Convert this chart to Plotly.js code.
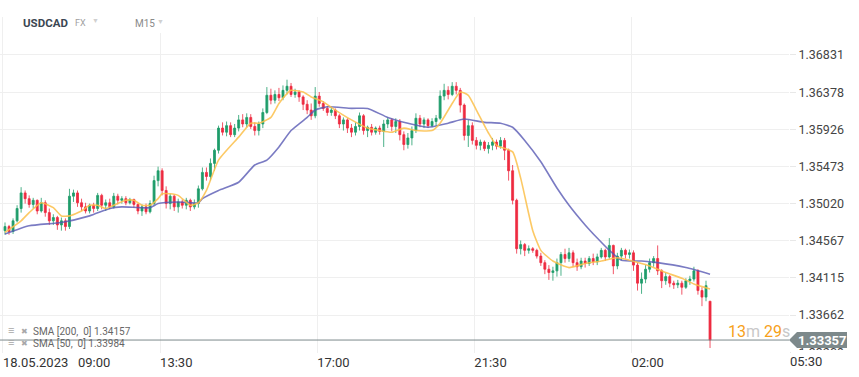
<!DOCTYPE html>
<html><head><meta charset="utf-8">
<script src="https://cdn.plot.ly/plotly-3.0.1.min.js"></script>
<style>html,body{margin:0;padding:0;background:#fff}#chart{width:859px;height:377px}</style>
</head><body><div id="chart"></div>
<script>
const symbolName = "USDCAD";
const xTickPos = [-0.5, 38.5, 77.5, 116.5, 155.5, 194.5];
const xTickText = ["18.05.2023\u00a0\u00a0\u00a009:00", "13:30", "17:00", "21:30", "02:00", ""];
const lastTickText = "05:30";
const yTickVals = [1.33209, 1.33662, 1.34115, 1.34567, 1.35020, 1.35473, 1.35926, 1.36378, 1.36831];
const yTickText = ["1.33209", "1.33662", "1.34115", "1.34567", "1.35020", "1.35473", "1.35926", "1.36378", "1.36831"];

const open = [
1.3469,1.3474,1.3468,1.3481,1.3496,1.3515,1.3508,1.3501,1.3506,1.3493,
1.3503,1.3491,1.3481,1.3485,1.3476,1.3481,1.3474,1.3511,1.3515,1.3503,
1.3498,1.3493,1.3500,1.3496,1.3512,1.3500,1.3503,1.3498,1.3511,1.3506,
1.3508,1.3503,1.3507,1.3501,1.3493,1.3498,1.3492,1.3502,1.3530,1.3542,
1.3518,1.3502,1.3511,1.3498,1.3504,1.3500,1.3506,1.3498,1.3502,1.3520,
1.3540,1.3535,1.3551,1.3567,1.3594,1.3589,1.3597,1.3586,1.3594,1.3604,
1.3599,1.3607,1.3596,1.3591,1.3599,1.3613,1.3634,1.3628,1.3635,1.3631,
1.3640,1.3645,1.3635,1.3638,1.3632,1.3623,1.3616,1.3609,1.3633,1.3624,
1.3618,1.3613,1.3616,1.3609,1.3599,1.3604,1.3594,1.3589,1.3596,1.3609,
1.3591,1.3595,1.3589,1.3594,1.3590,1.3599,1.3604,1.3596,1.3602,1.3586,
1.3574,1.3582,1.3591,1.3606,1.3599,1.3604,1.3597,1.3602,1.3606,1.3633,
1.3640,1.3635,1.3645,1.3640,1.3622,1.3585,1.3597,1.3579,1.3573,1.3577,
1.3569,1.3573,1.3577,1.3572,1.3579,1.3567,1.3542,1.3506,1.3447,1.3452,
1.3445,1.3447,1.3445,1.3438,1.3430,1.3422,1.3418,1.3420,1.3430,1.3440,
1.3435,1.3442,1.3430,1.3425,1.3432,1.3429,1.3435,1.3431,1.3437,1.3445,
1.3437,1.3451,1.3426,1.3438,1.3445,1.3440,1.3442,1.3427,1.3405,1.3410,
1.3422,1.3430,1.3435,1.3420,1.3408,1.3413,1.3405,1.3403,1.3405,1.3400,
1.3408,1.3410,1.3420,1.3396,1.3388,1.3383];
const high = [
1.3479,1.3476,1.3484,1.3500,1.3522,1.3518,1.3512,1.3509,1.3507,1.3509,
1.3506,1.3496,1.3489,1.3487,1.3485,1.3484,1.3520,1.3519,1.3518,1.3508,
1.3503,1.3502,1.3503,1.3515,1.3514,1.3507,1.3508,1.3515,1.3514,1.3511,
1.3511,1.3509,1.3508,1.3502,1.3501,1.3502,1.3506,1.3536,1.3547,1.3545,
1.3523,1.3514,1.3513,1.3508,1.3507,1.3509,1.3508,1.3507,1.3524,1.3546,
1.3546,1.3557,1.3569,1.3597,1.3601,1.3602,1.3601,1.3599,1.3610,1.3611,
1.3612,1.3611,1.3601,1.3602,1.3618,1.3644,1.3642,1.3640,1.3643,1.3646,
1.3653,1.3649,1.3642,1.3640,1.3634,1.3628,1.3624,1.3644,1.3638,1.3627,
1.3621,1.3620,1.3618,1.3611,1.3607,1.3606,1.3599,1.3601,1.3613,1.3611,
1.3597,1.3599,1.3596,1.3597,1.3604,1.3607,1.3606,1.3606,1.3605,1.3590,
1.3588,1.3596,1.3612,1.3610,1.3607,1.3606,1.3606,1.3610,1.3640,1.3648,
1.3645,1.3650,1.3650,1.3643,1.3624,1.3604,1.3601,1.3583,1.3580,1.3579,
1.3577,1.3582,1.3580,1.3583,1.3582,1.3569,1.3549,1.3508,1.3457,1.3454,
1.3451,1.3449,1.3447,1.3442,1.3433,1.3427,1.3425,1.3435,1.3443,1.3447,
1.3448,1.3445,1.3435,1.3436,1.3436,1.3438,1.3441,1.3441,1.3448,1.3447,
1.3460,1.3452,1.3442,1.3448,1.3447,1.3446,1.3445,1.3430,1.3418,1.3427,
1.3435,1.3438,1.3451,1.3422,1.3418,1.3415,1.3408,1.3409,1.3408,1.3411,
1.3414,1.3425,1.3422,1.3400,1.3408,1.3383];
const low = [
1.3464,1.3464,1.3465,1.3479,1.3491,1.3502,1.3497,1.3496,1.3489,1.3491,
1.3486,1.3476,1.3476,1.3470,1.3469,1.3469,1.3471,1.3504,1.3498,1.3493,
1.3490,1.3490,1.3491,1.3493,1.3495,1.3493,1.3495,1.3496,1.3501,1.3502,
1.3500,1.3501,1.3497,1.3489,1.3487,1.3489,1.3490,1.3500,1.3523,1.3512,
1.3496,1.3495,1.3493,1.3491,1.3496,1.3495,1.3493,1.3495,1.3497,1.3518,
1.3530,1.3530,1.3542,1.3563,1.3585,1.3584,1.3583,1.3583,1.3590,1.3595,
1.3595,1.3593,1.3585,1.3585,1.3594,1.3611,1.3623,1.3624,1.3627,1.3628,
1.3635,1.3632,1.3631,1.3626,1.3616,1.3611,1.3604,1.3606,1.3620,1.3615,
1.3609,1.3609,1.3605,1.3594,1.3591,1.3588,1.3583,1.3585,1.3591,1.3586,
1.3583,1.3585,1.3586,1.3586,1.3571,1.3594,1.3590,1.3588,1.3579,1.3567,
1.3569,1.3573,1.3588,1.3595,1.3594,1.3594,1.3595,1.3597,1.3604,1.3628,
1.3629,1.3633,1.3635,1.3613,1.3579,1.3571,1.3574,1.3568,1.3567,1.3566,
1.3563,1.3567,1.3568,1.3569,1.3555,1.3530,1.3501,1.3441,1.3440,1.3438,
1.3441,1.3442,1.3435,1.3426,1.3416,1.3409,1.3408,1.3413,1.3414,1.3430,
1.3431,1.3425,1.3420,1.3422,1.3424,1.3426,1.3427,1.3427,1.3435,1.3432,
1.3435,1.3416,1.3422,1.3433,1.3435,1.3435,1.3420,1.3396,1.3392,1.3405,
1.3418,1.3425,1.3415,1.3399,1.3403,1.3400,1.3398,1.3399,1.3391,1.3398,
1.3403,1.3407,1.3391,1.3377,1.3383,1.3326];
const close = [
1.3474,1.3468,1.3481,1.3496,1.3515,1.3508,1.3501,1.3506,1.3493,1.3503,
1.3491,1.3481,1.3485,1.3476,1.3481,1.3474,1.3511,1.3515,1.3503,1.3498,
1.3493,1.3500,1.3496,1.3512,1.3500,1.3503,1.3498,1.3511,1.3506,1.3508,
1.3503,1.3507,1.3501,1.3493,1.3498,1.3492,1.3502,1.3530,1.3542,1.3518,
1.3502,1.3511,1.3498,1.3504,1.3500,1.3506,1.3498,1.3502,1.3520,1.3540,
1.3535,1.3551,1.3567,1.3594,1.3589,1.3597,1.3586,1.3594,1.3604,1.3599,
1.3607,1.3596,1.3591,1.3599,1.3613,1.3634,1.3628,1.3635,1.3631,1.3640,
1.3645,1.3635,1.3638,1.3632,1.3623,1.3616,1.3609,1.3633,1.3624,1.3618,
1.3613,1.3616,1.3609,1.3599,1.3604,1.3594,1.3589,1.3596,1.3609,1.3591,
1.3595,1.3589,1.3594,1.3590,1.3599,1.3604,1.3596,1.3602,1.3586,1.3574,
1.3582,1.3591,1.3606,1.3599,1.3604,1.3597,1.3602,1.3606,1.3633,1.3640,
1.3635,1.3645,1.3640,1.3622,1.3585,1.3597,1.3579,1.3573,1.3577,1.3569,
1.3573,1.3577,1.3572,1.3579,1.3567,1.3542,1.3506,1.3447,1.3452,1.3445,
1.3447,1.3445,1.3438,1.3430,1.3422,1.3418,1.3420,1.3430,1.3440,1.3435,
1.3442,1.3430,1.3425,1.3432,1.3429,1.3435,1.3431,1.3437,1.3445,1.3437,
1.3451,1.3426,1.3438,1.3445,1.3440,1.3442,1.3427,1.3405,1.3410,1.3422,
1.3430,1.3435,1.3420,1.3408,1.3413,1.3405,1.3403,1.3405,1.3400,1.3408,
1.3410,1.3420,1.3396,1.3388,1.3402,1.33357];

const sma200X = [0,6,14,21,26,29,36,38,43,48,49,53,58,62,65,68,71,75,77,80,86,90,95,100,105,110,114,119,123,126,129,133,137,140,144,147,150,153,158,162,169,175];
const sma200Y = [1.3465,1.3475,1.3479,1.3487,1.3496,1.3498,1.3497,1.3502,1.3504,1.3503,1.3508,1.3518,1.3528,1.3549,1.3555,1.3571,1.3591,1.3607,1.3616,1.3620,1.3618,1.3618,1.3607,1.3600,1.3595,1.3600,1.3605,1.3601,1.3600,1.3595,1.3579,1.3553,1.3521,1.3500,1.3476,1.3460,1.3445,1.3433,1.3432,1.3430,1.3424,1.3416];
const sma50X = [0,4,6,9,12,14,16,19,21,23,25,27,30,32,34,36,38,39,41,43,46,48,50,53,58,61,63,66,68,70,71,74,76,79,82,86,90,93,96,99,102,106,108,111,113,115,117,120,122,126,128,131,133,136,140,144,148,152,155,160,164,168,171,175];
const sma50Y = [1.3467,1.3481,1.3491,1.3503,1.3497,1.3487,1.3487,1.3493,1.3500,1.3500,1.3496,1.3500,1.3506,1.3506,1.3500,1.3500,1.3508,1.3514,1.3514,1.3512,1.3500,1.3503,1.3518,1.3555,1.3583,1.3600,1.3600,1.3607,1.3624,1.3636,1.3640,1.3638,1.3632,1.3626,1.3616,1.3604,1.3594,1.3591,1.3589,1.3594,1.3591,1.3591,1.3600,1.3624,1.3638,1.3634,1.3616,1.3588,1.3573,1.3565,1.3533,1.3469,1.3445,1.3432,1.3424,1.3429,1.3432,1.3436,1.3433,1.3426,1.3418,1.3411,1.3404,1.3398];
const legendLabels = ["SMA [200,\u00a0 0] 1.34157", "SMA [50,\u00a0 0] 1.33984"];
const lastPriceText = "1.33357";
const countdown = ["13", "m", "29", "s"];

const barIndex = close.map((_, i) => i);
const lastPrice = close[close.length - 1];

const traces = [
  {type:'candlestick', x:barIndex, open:open, high:high, low:low, close:close,
   increasing:{line:{color:'#1f9d6b', width:0.8}, fillcolor:'#1f9d6b'},
   decreasing:{line:{color:'#ee2b40', width:0.8}, fillcolor:'#ee2b40'},
   whiskerwidth:0, hoverinfo:'skip', showlegend:false},
  {type:'scatter', mode:'lines', x:sma200X, y:sma200Y,
   line:{color:'rgba(84,86,178,0.78)', width:1.6, shape:'spline', smoothing:0.5}, hoverinfo:'skip'},
  {type:'scatter', mode:'lines', x:sma50X, y:sma50Y,
   line:{color:'rgba(251,192,74,0.85)', width:1.6, shape:'spline', smoothing:0.5}, hoverinfo:'skip'}
];

const plotW = 789, plotTop = 17, plotBottom = 353, plotH = plotBottom - plotTop;
const px2paperX = px => px / plotW;
const px2paperY = py => (plotBottom - py) / plotH;
const halfTag = 8 * (1.37294 - 1.33199) / plotH;

const tagPath = `M 1.0,${lastPrice} L ${px2paperX(797)},${lastPrice + halfTag} L ${px2paperX(847)},${lastPrice + halfTag} L ${px2paperX(847)},${lastPrice - halfTag} L ${px2paperX(797)},${lastPrice - halfTag} Z`;

const layout = {
  width:859, height:377,
  margin:{l:0, r:70, t:plotTop, b:377 - plotBottom, pad:0},
  paper_bgcolor:'#ffffff', plot_bgcolor:'#ffffff',
  showlegend:false,
  font:{family:'Roboto, sans-serif', color:'#333', size:12},
  xaxis:{range:[-1.24, 194.6], tickmode:'array', tickvals:xTickPos, ticktext:xTickText,
    ticklabelposition:'outside right', showgrid:true, gridcolor:'#efefef', gridwidth:1,
    zeroline:false, showline:false, ticks:'', rangeslider:{visible:false}, fixedrange:true,
    tickfont:{size:13, color:'#333', family:'Roboto, sans-serif'}},
  yaxis:{side:'right', range:[1.33199, 1.37294], tickmode:'array', tickvals:yTickVals, ticktext:yTickText,
    showgrid:true, gridcolor:'#efefef', gridwidth:1, zeroline:false, showline:false,
    ticks:'outside', ticklen:6, tickcolor:'#e8e8e8', fixedrange:true,
    tickfont:{size:12.5, color:'#444', family:'Roboto, sans-serif'}},
  shapes:[
    {type:'rect', xref:'paper', yref:'paper', x0:px2paperX(10), x1:px2paperX(176), y0:px2paperY(33), y1:px2paperY(0),
     fillcolor:'#ffffff', line:{width:0}, layer:'above'},
    {type:'rect', xref:'paper', yref:'paper', x0:px2paperX(791), x1:px2paperX(859), y0:px2paperY(377), y1:px2paperY(350),
     fillcolor:'#ffffff', line:{width:0}, layer:'above'},
    {type:'line', xref:'paper', yref:'y', x0:0, x1:1, y0:lastPrice, y1:lastPrice,
     line:{color:'#7d898b', width:1}, layer:'above'},
    {type:'path', xref:'paper', yref:'y', path:tagPath, fillcolor:'#7d898b', line:{width:0}, layer:'above'}
  ],
  annotations:[
    {xref:'paper', yref:'paper', x:px2paperX(21), y:px2paperY(23), xanchor:'left', yanchor:'middle', showarrow:false,
     text:'<b>'+symbolName+'</b>', font:{size:11.5, color:'#3b4753', family:'Roboto, sans-serif'}},
    {xref:'paper', yref:'paper', x:px2paperX(73), y:px2paperY(23), xanchor:'left', yanchor:'middle', showarrow:false,
     text:'FX', font:{size:9, color:'#a0a0a0', family:'Roboto, sans-serif'}},
    {xref:'paper', yref:'paper', x:px2paperX(90), y:px2paperY(21), xanchor:'left', yanchor:'middle', showarrow:false,
     text:'\u25BC', font:{size:7, color:'#d0d0d0'}},
    {xref:'paper', yref:'paper', x:px2paperX(133), y:px2paperY(23), xanchor:'left', yanchor:'middle', showarrow:false,
     text:'M15', font:{size:10, color:'#8a8a8a', family:'Roboto, sans-serif'}},
    {xref:'paper', yref:'paper', x:px2paperX(155), y:px2paperY(22), xanchor:'left', yanchor:'middle', showarrow:false,
     text:'\u25BC', font:{size:7, color:'#d0d0d0'}},
    {xref:'paper', yref:'paper', x:px2paperX(6), y:px2paperY(330), xanchor:'left', yanchor:'middle', showarrow:false,
     text:'\u2261', font:{size:11, color:'#a8a8a8'}},
    {xref:'paper', yref:'paper', x:px2paperX(19), y:px2paperY(331), xanchor:'left', yanchor:'middle', showarrow:false,
     text:'\u2716', font:{size:8, color:'#a8a8a8'}},
    {xref:'paper', yref:'paper', x:px2paperX(31), y:px2paperY(331), xanchor:'left', yanchor:'middle', showarrow:false,
     text:legendLabels[0], font:{size:10, color:'#666', family:'Roboto, sans-serif'}},
    {xref:'paper', yref:'paper', x:px2paperX(6), y:px2paperY(342), xanchor:'left', yanchor:'middle', showarrow:false,
     text:'\u2261', font:{size:11, color:'#a8a8a8'}},
    {xref:'paper', yref:'paper', x:px2paperX(19), y:px2paperY(343), xanchor:'left', yanchor:'middle', showarrow:false,
     text:'\u2716', font:{size:8, color:'#a8a8a8'}},
    {xref:'paper', yref:'paper', x:px2paperX(31), y:px2paperY(343), xanchor:'left', yanchor:'middle', showarrow:false,
     text:legendLabels[1], font:{size:10, color:'#666', family:'Roboto, sans-serif'}},
    {xref:'paper', yref:'paper', x:px2paperX(792), y:px2paperY(331), xanchor:'right', yanchor:'middle', showarrow:false,
     text:'<span style="color:#f7a11a">'+countdown[0]+'</span><span style="color:#c8c8c8">'+countdown[1]+'</span> <span style="color:#f7a11a">'+countdown[2]+'</span><span style="color:#c8c8c8">'+countdown[3]+'</span>',
     font:{size:16, family:'Roboto, sans-serif'}},
    {xref:'paper', yref:'y', x:px2paperX(822), y:lastPrice, xanchor:'center', yanchor:'middle', showarrow:false,
     text:'<b>'+lastPriceText+'</b>', font:{size:13, color:'#ffffff', family:'Roboto, sans-serif'}},
    {xref:'paper', yref:'paper', x:px2paperX(788), y:px2paperY(361), xanchor:'left', yanchor:'middle', showarrow:false,
     text:lastTickText, font:{size:13, color:'#333', family:'Roboto, sans-serif'}}
  ]
};

Plotly.newPlot('chart', traces, layout, {displayModeBar:false, staticPlot:true});
</script>
</body></html>
